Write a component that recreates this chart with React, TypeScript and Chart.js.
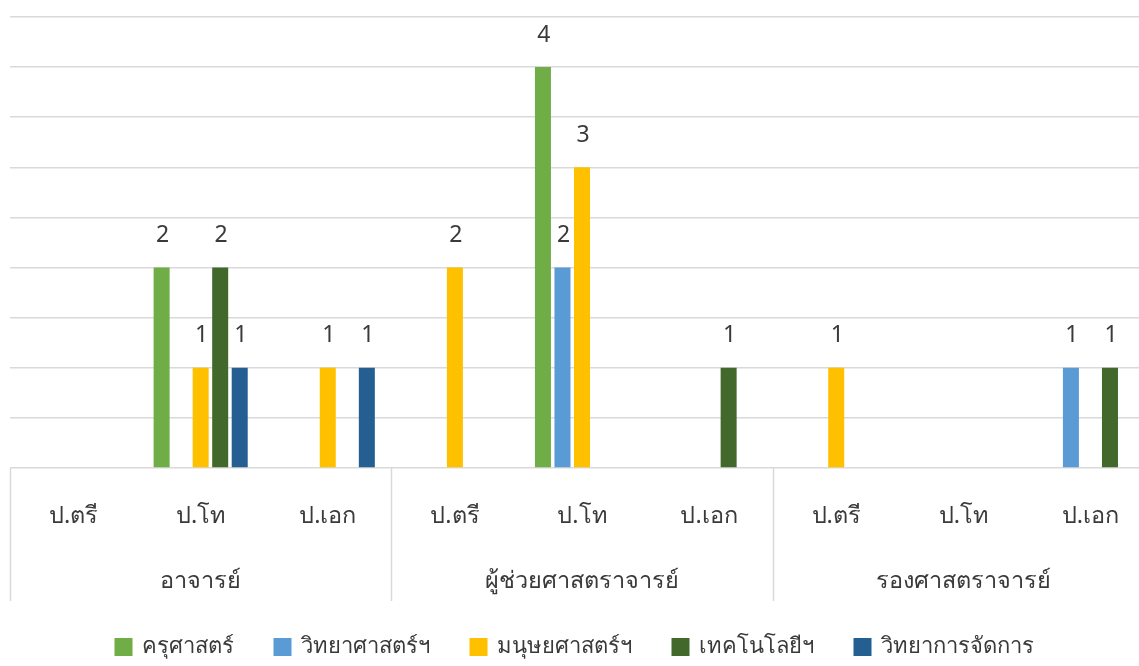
import { useEffect, useRef } from "react";
import { Chart, registerables } from "chart.js";

Chart.register(...registerables);

const ranks = ["อาจารย์", "ผู้ช่วยศาสตราจารย์", "รองศาสตราจารย์"];
const degrees = ["ป.ตรี", "ป.โท", "ป.เอก"];
const categories = ranks.flatMap(() => degrees);

const seriesNames = ["ครุศาสตร์", "วิทยาศาสตร์ฯ", "มนุษยศาสตร์ฯ", "เทคโนโลยีฯ", "วิทยาการจัดการ"];
const seriesColors = ["#70AD47", "#5B9BD5", "#FFC000", "#43682B", "#255E91"];

const kru = [null, 2, null, null, 4, null, null, null, null];
const sci = [null, null, null, null, 2, null, null, null, 1];
const hum = [null, 1, 1, 2, 3, null, 1, null, null];
const tech = [null, 2, null, null, null, 1, null, null, 1];
const mgmt = [null, 1, 1, null, null, null, null, null, null];
const seriesValues = [kru, sci, hum, tech, mgmt];

const yMax = 4.5;
const yStep = 0.5;

const FONT = '"Noto Sans", "DejaVu Sans", sans-serif';
const TEXT = "#3a3a3a";
const LINE = "#d9d9d9";

const overlay = {
  id: "overlay",
  afterDraw(chart: any) {
    const ctx = chart.ctx;
    const xs = chart.scales.x;
    const area = chart.chartArea;
    const n = categories.length;
    const cw = (xs.right - xs.left) / n;
    ctx.save();
    // data labels
    ctx.fillStyle = TEXT;
    ctx.font = `23px ${FONT}`;
    ctx.textAlign = "center";
    ctx.textBaseline = "middle";
    chart.data.datasets.forEach((ds: any, di: number) => {
      const meta = chart.getDatasetMeta(di);
      meta.data.forEach((el: any, i: number) => {
        const v = ds.data[i];
        if (v == null || v === 0) return;
        ctx.fillText(String(v), el.x + 1, el.y - 32);
      });
    });
    // x axis labels
    ctx.font = `23.5px ${FONT}`;
    categories.forEach((lab, i) => {
      ctx.fillText(lab, xs.getPixelForValue(i), 516);
    });
    ranks.forEach((r, g) => {
      const c = (xs.getPixelForValue(g * 3) + xs.getPixelForValue(g * 3 + 2)) / 2;
      ctx.fillText(r, c, 581);
    });
    // separators
    ctx.strokeStyle = LINE;
    ctx.lineWidth = 1.5;
    for (let g = 0; g <= ranks.length; g++) {
      const x = Math.round(xs.getPixelForValue(g * 3) - cw / 2) + 0.5;
      ctx.beginPath();
      ctx.moveTo(x, area.bottom);
      ctx.lineTo(x, 601);
      ctx.stroke();
    }
    // legend
    ctx.font = `22px ${FONT}`;
    ctx.textAlign = "left";
    const box = 18;
    const gapBoxText = 9;
    const gapItems = 40;
    const widths = seriesNames.map((s) => box + gapBoxText + ctx.measureText(s).width);
    const total = widths.reduce((a, b) => a + b, 0) + gapItems * (seriesNames.length - 1);
    let x = 574 - total / 2;
    const cy = 647;
    seriesNames.forEach((s, i) => {
      ctx.fillStyle = seriesColors[i];
      ctx.fillRect(x, cy - box / 2, box, box);
      ctx.fillStyle = TEXT;
      ctx.fillText(s, x + box + gapBoxText, cy);
      x += widths[i] + gapItems;
    });
    ctx.restore();
  },
};

export default function App() {
  const ref = useRef<HTMLCanvasElement | null>(null);
  useEffect(() => {
    if (!ref.current) return;
    const chart = new Chart(ref.current, {
      type: "bar",
      data: {
        labels: categories,
        datasets: seriesNames.map((name, i) => ({
          label: name,
          data: seriesValues[i],
          backgroundColor: seriesColors[i],
          borderWidth: 0,
          categoryPercentage: 0.768,
          barPercentage: 0.82,
        })),
      },
      options: {
        responsive: false,
        animation: false,
        devicePixelRatio: 1,
        layout: { padding: { left: 10, right: 8, top: 17, bottom: 198 } },
        plugins: { legend: { display: false }, tooltip: { enabled: false } },
        scales: {
          x: { display: false },
          y: {
            display: true,
            min: 0,
            max: yMax,
            ticks: { display: false, stepSize: yStep },
            border: { display: false },
            grid: { color: LINE, lineWidth: 1.5, drawTicks: false },
          },
        },
      },
      plugins: [overlay],
    });
    return () => chart.destroy();
  }, []);
  return (
    <div style={{ position: "fixed", left: 0, top: 0, width: 1139, height: 666, overflow: "hidden", background: "#fff" }}>
      <canvas ref={ref} width={1162} height={666} style={{ display: "block" }} />
    </div>
  );
}
